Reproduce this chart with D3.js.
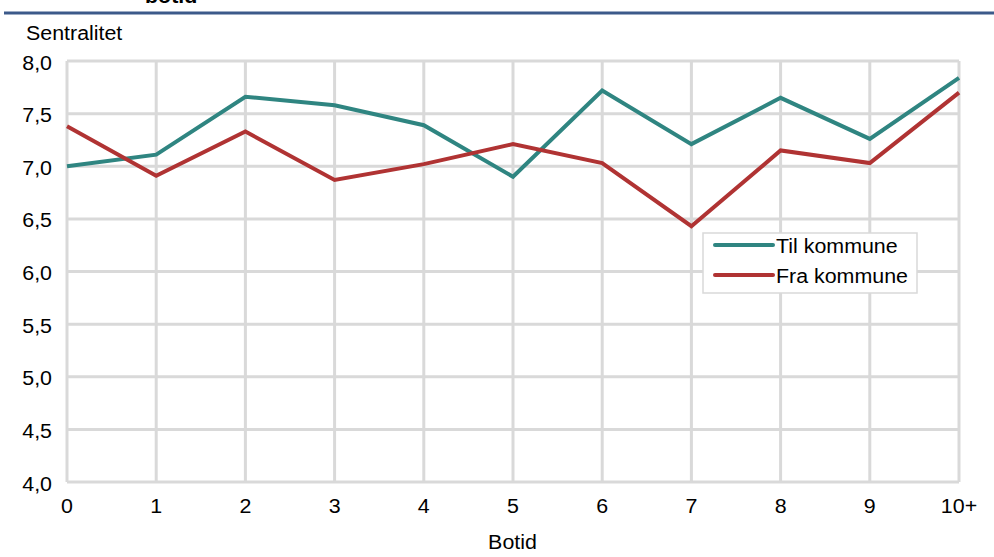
<!DOCTYPE html>
<html><head><meta charset="utf-8">
<script src="https://cdn.jsdelivr.net/npm/d3@7"></script>
<style>body{margin:0;background:#fff;}svg{display:block;font-family:"Liberation Sans",Arial,sans-serif;}</style>
</head><body>
<script>
const categories = ["0","1","2","3","4","5","6","7","8","9","10+"];
const tilKommune = [7.00,7.11,7.66,7.58,7.39,6.90,7.72,7.21,7.65,7.26,7.84];
const fraKommune = [7.38,6.91,7.33,6.87,7.02,7.21,7.03,6.43,7.15,7.03,7.70];
const yTicks = [4.0,4.5,5.0,5.5,6.0,6.5,7.0,7.5,8.0];
const seriesNames = ["Til kommune","Fra kommune"];
const colors = ["#2f8581","#b03333"];

const W=994,H=557, FS=20, SX=1.07;
const svg=d3.select("body").append("svg").attr("width",W).attr("height",H);
const x=d3.scalePoint().domain(categories).range([67,959]);
const y=d3.scaleLinear().domain([4,8]).range([482,61]);

function txt(parent,tx,ty,s,anchor,opts){
  opts=opts||{};
  const t=parent.append("text")
    .attr("transform",`translate(${tx},${ty}) scale(${SX},1)`)
    .attr("text-anchor",anchor||"start").attr("font-size",opts.size||FS).attr("fill","#000").text(s);
  if(opts.bold) t.attr("font-weight","bold");
  return t;
}

// header
txt(svg,145,3,"botid","start",{bold:true,size:20});
svg.append("line").attr("x1",4).attr("x2",994).attr("y1",13).attr("y2",13).attr("stroke","#3c5a8a").attr("stroke-width",3);

// grid
const g=svg.append("g");
g.selectAll(".hg").data(yTicks).join("line").attr("x1",67).attr("x2",959).attr("y1",d=>y(d)).attr("y2",d=>y(d)).attr("stroke","#d9d9d9").attr("stroke-width",3);
g.selectAll(".vg").data(categories).join("line").attr("x1",d=>x(d)).attr("x2",d=>x(d)).attr("y1",y(8)).attr("y2",y(4)).attr("stroke","#d9d9d9").attr("stroke-width",3);

// tick labels
yTicks.forEach(d=>txt(svg,52,y(d)+8.5,d3.format(".1f")(d).replace(".",","),"end"));
categories.forEach(d=>txt(svg,x(d),513,d,"middle"));

txt(svg,26,40,"Sentralitet","start");
txt(svg,512.5,549,"Botid","middle");

// lines
const line=d3.line().x((d,i)=>x(categories[i])).y(d=>y(d));
[tilKommune,fraKommune].forEach((s,k)=>{
  svg.append("path").datum(s).attr("d",line).attr("fill","none").attr("stroke",colors[k]).attr("stroke-width",4).attr("stroke-linejoin","miter");
});

// legend
const lg=svg.append("g");
lg.append("rect").attr("x",703).attr("y",233).attr("width",214).attr("height",60).attr("fill","#fff").attr("stroke","#d9d9d9").attr("stroke-width",1.5);
seriesNames.forEach((n,k)=>{
  const ly=245+k*30;
  lg.append("line").attr("x1",715).attr("x2",773).attr("y1",ly).attr("y2",ly).attr("stroke",colors[k]).attr("stroke-width",4).attr("stroke-linecap","round");
  txt(lg,776,ly+7.5,n,"start");
});
</script>
</body></html>
